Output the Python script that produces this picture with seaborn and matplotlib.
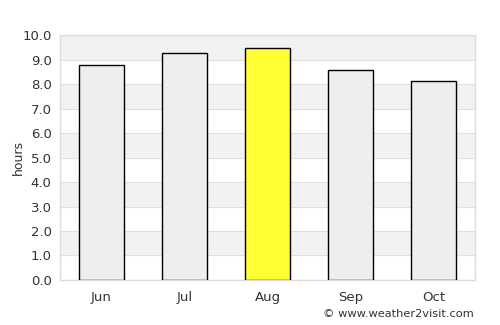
import matplotlib
matplotlib.use("Agg")
import matplotlib.pyplot as plt
import seaborn as sns
import pandas as pd

months = ["Jun", "Jul", "Aug", "Sep", "Oct"]
hours = [8.78, 9.25, 9.46, 8.56, 8.11]
colors = ["#eeeeee", "#eeeeee", "#ffff33", "#eeeeee", "#eeeeee"]
yticks = [0, 1, 2, 3, 4, 5, 6, 7, 8, 9, 10]

sns.set_style("white")
plt.rcParams['font.family'] = ['DejaVu Sans']

df = pd.DataFrame({"month": months, "hours": hours})

fig = plt.figure(figsize=(5, 3.25), dpi=100)
ax = fig.add_axes([0.12, 0.1385, 0.83, 0.7535])

for i in range(1, 10, 2):
    ax.axhspan(i, i + 1, color="#f2f2f2", zorder=0, lw=0)

sns.barplot(data=df, x="month", y="hours", hue="month", palette=colors,
            saturation=1, legend=False, width=0.55, edgecolor="black",
            linewidth=1, ax=ax, zorder=3)

ax.set_ylim(0, 10)
ax.set_xlim(-0.5, 4.5)
ax.set_yticks(yticks)
ax.set_yticklabels([f"{v:.1f}" for v in yticks])
ax.yaxis.grid(True, color="#e0e0e0", lw=0.8, zorder=1)
ax.set_axisbelow(True)
ax.set_xlabel("")
ax.set_ylabel("hours", fontsize=9, color="#333333")
ax.yaxis.set_label_coords(-0.085, 0.5)
ax.tick_params(axis="both", labelsize=9.5, colors="#333333", length=0, pad=6)
ax.tick_params(axis="x", pad=8)
for s in ax.spines.values():
    s.set_color("#dddddd")
    s.set_linewidth(1)

fig.text(0.948, 0.018, "© www.weather2visit.com", ha="right", va="bottom",
         fontsize=8.2, color="#333333")

fig.savefig("out.png", dpi=100)
